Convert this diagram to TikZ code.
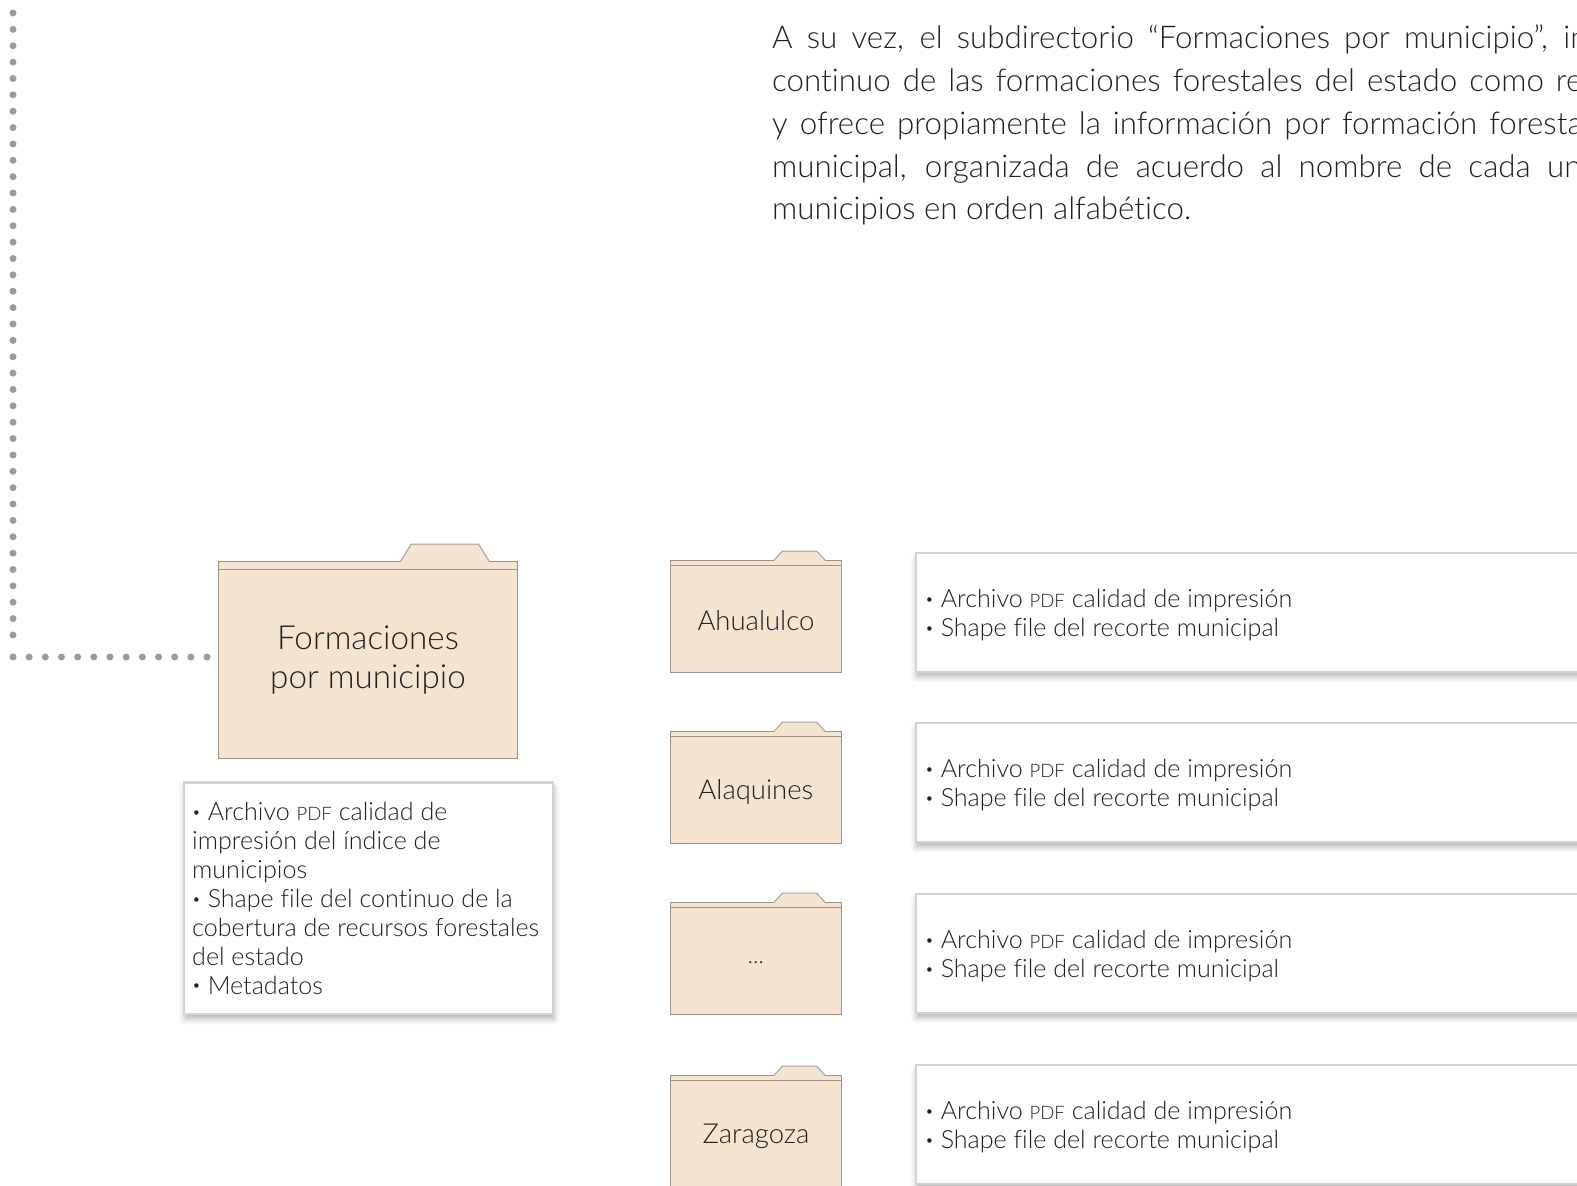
\documentclass[tikz,border=0pt]{standalone}
\usepackage{fontspec}
\setmainfont{Lato Light}[Ligatures=NoCommon]
\usetikzlibrary{calc,shadows.blur}
\definecolor{folderfill}{HTML}{F5E4D0}
\definecolor{folderline}{HTML}{9D928B}
\definecolor{tabline}{HTML}{A99E97}
\definecolor{dotgray}{HTML}{9B9B9B}
\definecolor{boxline}{HTML}{D3D3D3}
\definecolor{inkcol}{HTML}{231F20}
\newcommand{\pdfsc}{\scalebox{0.74}{PDF}}
\newcommand{\bul}{\raisebox{0.14em}{\scalebox{0.6}{•}}}
\newcommand{\ftab}[6]{%
  \fill[folderfill] ($(#1.north west)+(#2,0.8)$) -- ++(#5,-#3-0.8) -- ++(#4,0) -- ++(#5,#3+0.8) -- cycle;
  \draw[tabdraw] ($(#1.north west)+(#2,0)$) -- ++(#5,-#3) -- ++(#4,0) -- ++(#5,#3);
  \draw[bandline] ($(#1.north west)+(0,#6)$) -- ($(#1.north east)+(0,#6)$);}
\hyphenpenalty=10000
\begin{document}
\begin{tikzpicture}[x=1pt,y=-1pt,
  folderbody/.style={draw=folderline, fill=folderfill, line width=1.2pt, inner sep=0pt, anchor=north west, text=inkcol, align=center},
  foldertext/.style={inner sep=0pt, text=inkcol, font=\fontsize{27.5}{32}\selectfont},
  tabdraw/.style={draw=tabline, line width=1pt, line join=miter},
  bandline/.style={draw=folderline, line width=1pt},
  infobox/.style={draw=boxline, fill=white, line width=2.2pt, anchor=north west, inner sep=0pt,
     blur shadow={shadow xshift=1pt, shadow yshift=-5pt, shadow blur radius=6pt, shadow opacity=30}},
  boxtext/.style={anchor=west, inner sep=0pt, text=inkcol, align=left, font=\fontsize{25.1}{29.2}\selectfont},
  paraline/.style={anchor=base west, inner sep=0pt, text=inkcol, font=\fontsize{31.3}{42.7}\selectfont},
  dotline/.style={draw=dotgray, line width=7pt, line cap=round}]
\useasboundingbox (0,0) rectangle (1577,1186);
\clip (0,0) rectangle (1577,1186);

% paragraph
\node[paraline] (p1) at (772,48.8) {\makebox[815pt][s]{A su vez, el subdirectorio “Formaciones por municipio”, in}};
\node[paraline] (p2) at (772,91.5) {\makebox[810pt][s]{continuo de las formaciones forestales del estado como re}};
\node[paraline] (p3) at (772,134.2) {\makebox[810pt][s]{y ofrece propiamente la información por formación foresta}};
\node[paraline] (p4) at (772,177) {\makebox[809pt][s]{municipal, organizada de acuerdo al nombre de cada un}};
\node[paraline] (p5) at (772,219.7) {municipios en orden alfabético.};

% main folder
\node[folderbody, font=\fontsize{33.2}{39.5}\selectfont, minimum width=299.3pt, minimum height=197pt] (f0) at (217.7,561) {Formaciones\\por municipio};
\ftab{f0}{183}{17}{67.3}{10.5}{8}

% dotted connector
\coordinate (dtop) at (13,13);
\coordinate (dbend) at (13,635.5);
\coordinate (dcorner) at (13,657);
\coordinate (dend) at (207.5,657);
\draw[dotline, dash pattern=on 0pt off 16.368pt] (dtop) -- (dbend);
\draw[dotline, dash pattern=on 0pt off 16.17pt] (dcorner) -- (dend);

% main info box
\node[infobox, minimum width=369pt, minimum height=231.3pt] (b0) at (183,781.3) {};
\node[boxtext, font=\fontsize{25.1}{28.9}\selectfont] (bt0) at ($(b0.west)+(9,0.5)$)
 {\bul{} Archivo \pdfsc{} calidad de\\impresión del índice de\\municipios\\\bul{} Shape file del continuo de la\\cobertura de recursos forestales\\del estado\\\bul{} Metadatos};

% municipal folders
\node[folderbody, minimum width=170.6pt, minimum height=111.7pt] (f1) at (670,560) {};
\ftab{f1}{104.2}{9}{34}{8.3}{5}
\node[foldertext] (t1) at ($(f1.center)+(0,4.6)$) {Ahualulco};
\node[folderbody, minimum width=170.6pt, minimum height=111.7pt] (f2) at (670,731) {};
\ftab{f2}{104.2}{9}{34}{8.3}{5}
\node[foldertext] (t2) at ($(f2.center)+(0,4.6)$) {Alaquines};
\node[folderbody, minimum width=170.6pt, minimum height=111.7pt] (f3) at (670,902) {};
\ftab{f3}{104.2}{9}{34}{8.3}{5}
\node[foldertext, font=\fontsize{22}{26}\selectfont] (t3) at ($(f3.center)+(0,4.6)$) {…};
\node[folderbody, minimum width=170.6pt, minimum height=111.7pt] (f4) at (670,1075) {};
\ftab{f4}{104.2}{9}{34}{8.3}{5}
\node[foldertext] (t4) at ($(f4.center)+(0,4.6)$) {Zaragoza};

% municipal info boxes
\foreach \i/\y in {1/552,2/722,3/893,4/1064}{
  \node[infobox, minimum width=800pt, minimum height=118.6pt] (b\i) at (914.5,\y) {};
  \node[boxtext] (bt\i) at ($(b\i.west)+(10.5,3)$)
   {\bul{} Archivo \pdfsc{} calidad de impresión\\\bul{} Shape file del recorte municipal};
}
\end{tikzpicture}
\end{document}
